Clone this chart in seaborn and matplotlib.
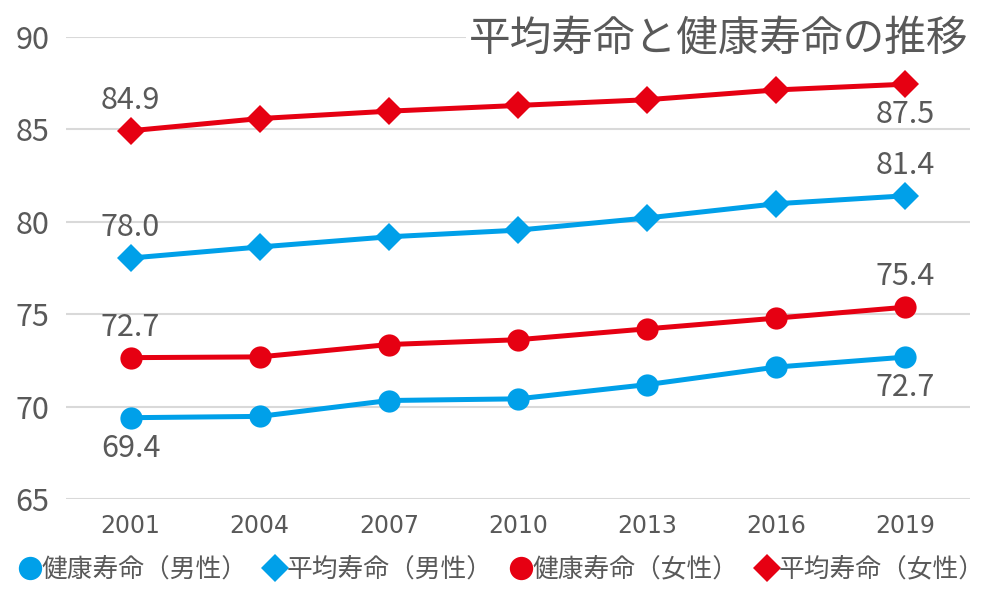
import pandas as pd
import matplotlib.pyplot as plt
import seaborn as sns

sns.set_theme(style="white")
plt.rcParams["font.family"] = ["Noto Sans CJK JP", "DejaVu Sans"]

years = ["2001", "2004", "2007", "2010", "2013", "2016", "2019"]
healthy_male = [69.40, 69.47, 70.33, 70.42, 71.19, 72.14, 72.68]
life_male = [78.04, 78.64, 79.19, 79.55, 80.21, 80.98, 81.41]
healthy_female = [72.65, 72.69, 73.36, 73.62, 74.21, 74.79, 75.38]
life_female = [84.93, 85.59, 85.99, 86.30, 86.61, 87.14, 87.45]

series_names = ["健康寿命（男性）", "平均寿命（男性）", "健康寿命（女性）", "平均寿命（女性）"]
series_values = [healthy_male, life_male, healthy_female, life_female]
series_colors = ["#00A0E9", "#00A0E9", "#E60012", "#E60012"]
series_markers = ["o", "D", "o", "D"]
marker_sizes = [16, 14, 16, 14]
# label offsets in points for first / last points (positive = above)
label_offsets = [(-22, -22), (22, 22), (22, 22), (22, -22)]

text_color = "#595959"

fig = plt.figure(figsize=(10, 6.03), dpi=100)
ax = fig.add_axes([0.066, 0.1725, 0.904, 0.766])

for name, vals, col, mk, ms, offs in zip(series_names, series_values, series_colors,
                                         series_markers, marker_sizes, label_offsets):
    df = pd.DataFrame({"year": years, "value": vals})
    sns.lineplot(data=df, x="year", y="value", ax=ax, color=col, marker=mk,
                 markersize=ms, markeredgewidth=0, linewidth=3.6, label=name,
                 sort=False)
    for idx, off in zip([0, len(years) - 1], offs):
        ax.annotate(f"{vals[idx]:.1f}", (years[idx], vals[idx]),
                    xytext=(0, off), textcoords="offset points",
                    ha="center", va="center", fontsize=22, color=text_color)

ax.set_ylim(65, 90)
ax.set_yticks([65, 70, 75, 80, 85, 90])
ax.set_xlim(-0.5, 6.5)
ax.set_xlabel("")
ax.set_ylabel("")
ax.grid(axis="y", color="#D9D9D9", linewidth=1.5)
ax.grid(axis="x", visible=False)
ax.set_axisbelow(True)
for s in ax.spines.values():
    s.set_visible(False)
ax.tick_params(axis="y", length=0, pad=12, labelsize=22, labelcolor=text_color)
ax.tick_params(axis="x", length=0, pad=11, labelsize=17, labelcolor=text_color)
for lbl in ax.get_xticklabels():
    lbl.set_fontfamily("DejaVu Sans")

ax.text(0.998, 0.995, "平均寿命と健康寿命の推移", transform=ax.transAxes,
        ha="right", va="center", fontsize=30, color=text_color,
        bbox=dict(facecolor="white", edgecolor="none", pad=2))

handles, labels = ax.get_legend_handles_labels()
ax.get_legend().remove()
fig.legend(handles, labels, loc="center", bbox_to_anchor=(0.502, 0.055), ncol=4,
           frameon=False, fontsize=18.5, handlelength=0.8, handletextpad=0.05,
           columnspacing=0.7, labelcolor=text_color, markerscale=1.05)
for h in fig.legends[0].legend_handles:
    h.set_linestyle("none")

fig.savefig("out.png", dpi=100)
